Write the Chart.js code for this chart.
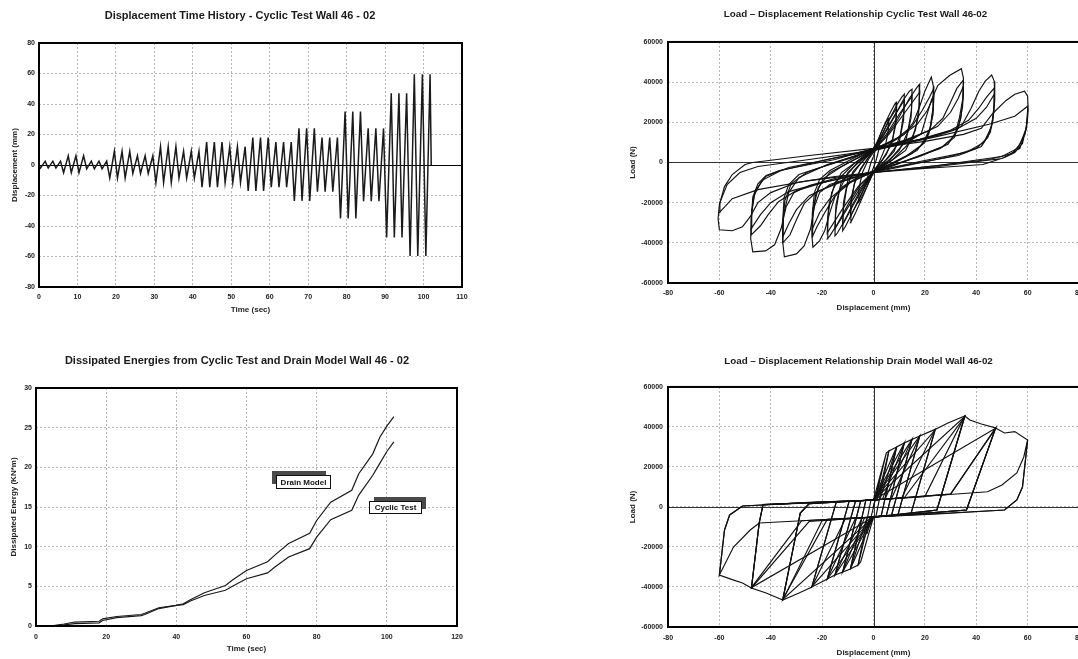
<!DOCTYPE html>
<html><head><meta charset="utf-8">
<script src="https://cdn.jsdelivr.net/npm/chart.js@4/dist/chart.umd.min.js"></script>
<style>
html,body{margin:0;padding:0;background:#fff;width:1078px;height:659px;overflow:hidden;position:relative}
canvas{position:absolute;display:block}
</style></head><body>
<canvas id="c1" width="480" height="330" style="left:0;top:0"></canvas>
<canvas id="c2" width="511" height="330" style="left:600px;top:0"></canvas>
<canvas id="c3" width="474" height="329" style="left:0;top:330px"></canvas>
<canvas id="c4" width="522" height="329" style="left:600px;top:330px"></canvas>
<script>
// ================= DATA =================
// Panel 1: displacement time history, turning points (sec, mm)
const histTime = [0,
 0.4,1.6,2.4,3.6,4.4,5.6, 6.4,7.6,8.4,9.6,10.4,11.6, 12.4,13.6,14.4,15.6,16.4,17.6,
 18.4,19.6,20.4,21.6,22.4,23.6, 24.4,25.6,26.4,27.6,28.4,29.6,
 30.4,31.6,32.4,33.6,34.4,35.6, 36.4,37.6,38.4,39.6,40.4,41.6,
 42.4,43.6,44.4,45.6,46.4,47.6, 48.4,49.6,50.4,51.6,52.4,53.6,
 54.4,55.6,56.4,57.6,58.4,59.6, 60.4,61.6,62.4,63.6,64.4,65.6,
 66.4,67.6,68.4,69.6,70.4,71.6, 72.4,73.6,74.4,75.6,76.4,77.6,
 78.4,79.6,80.4,81.6,82.4,83.6, 84.4,85.6,86.4,87.6,88.4,89.6,
 90.4,91.6,92.4,93.6,94.4,95.6, 96.5,97.6,98.5,99.7,100.6,101.7, 102.0];
const histDisp = [0,
 -2,2.5,-2,2.5,-2,2.5, -5,6,-5,6,-5,6, -2.5,2.5,-2.5,2.5,-2.5,2.5,
 -8.5,9,-8.5,9,-8.5,9, -5.5,6,-5.5,6,-5.5,6,
 -11.5,12,-11.5,12,-11.5,12, -8.5,9,-8.5,9,-8.5,9,
 -14.5,15,-14.5,15,-14.5,15, -11.5,12,-11.5,12,-11.5,12,
 -17,18,-17,18,-17,18, -14.5,15,-14.5,15,-14.5,15,
 -23.5,24,-23.5,24,-23.5,24, -17.5,18,-17.5,18,-17.5,18,
 -35,35,-35,35,-35,35, -23.8,24,-23.8,24,-23.8,24,
 -47.5,47,-47.5,47,-47.5,47, -59.7,59.5,-59.7,59.5,-59.7,59.5, 0];

// Panel 3: dissipated energy (sec, kN*m)
const energySeriesNames = ['Drain Model', 'Cyclic Test'];
const energyTime = [0,5,8,11,18,19,23,30,31,35,40,42,44,48,54,56,60,66,68,72,78,80,84,90,92,96,98,100,102];
const energyDrain = [0,0.05,0.25,0.5,0.6,0.9,1.2,1.45,1.6,2.3,2.6,2.8,3.3,4.2,5.1,5.8,7.0,8.1,8.9,10.4,11.7,13.3,15.6,17.1,19.2,21.7,23.8,25.2,26.4];
const energyTest  = [0,0.03,0.15,0.3,0.4,0.7,1.05,1.3,1.45,2.2,2.6,2.7,3.15,3.85,4.5,5.0,5.95,6.7,7.4,8.7,9.75,11.2,13.4,14.6,16.5,19.0,20.5,22.0,23.2];

// Panel 2: cyclic test hysteresis loops [displacement mm, load N]
const testLoop2 = [[0,3000],[1.2,8000],[2.5,12000],[2.2,7000],[1,1000],[0,-2500],[-1.2,-6500],[-2.5,-10000],[-2.2,-5500],[-1,0],[0,3000]];
const testLoop6 = [[0,5000],[1.5,10000],[3.5,16500],[5.3,21000],[6,22000],[5.7,15000],[4.3,6500],[2,-500],[0,-4500],[-1.5,-9000],[-3.5,-14500],[-5.3,-19000],[-6,-20000],[-5.7,-13000],[-4.3,-5000],[-2,1500],[0,5000]];
const testLoop9 = [[0,6500],[2,12000],[4.5,19500],[6.8,25500],[8.5,29500],[9,30000],[8.8,22000],[7.5,12000],[5,4000],[2,-1500],[0,-5000],[-2,-10500],[-4.5,-18000],[-6.8,-24500],[-8.5,-29000],[-9,-30000],[-8.8,-21000],[-7.5,-11000],[-5,-3000],[-2,2500],[0,6500]];
const testLoop9b = [[0,6000],[3,13000],[6,21000],[9,27000],[8.7,19000],[7,9000],[3.5,1500],[0,-4500],[-3,-11500],[-6,-19500],[-9,-27000],[-8.7,-18000],[-7,-8000],[-3.5,-500],[0,6000]];
const testLoop12 = [[0,7000],[3,13000],[6,21000],[9,28500],[11,32500],[12,34000],[11.8,25000],[10.5,14000],[8,5500],[4,0],[0,-5000],[-3,-11000],[-6,-19000],[-9,-27000],[-11,-32000],[-12,-34000],[-11.8,-24000],[-10.5,-13000],[-8,-4500],[-4,1000],[0,7000]];
const testLoop12b = [[0,6000],[4,14000],[8,23000],[12,31000],[11.7,21000],[10,10000],[5,1500],[0,-4500],[-4,-12500],[-8,-21500],[-12,-31000],[-11.7,-20000],[-10,-9000],[-5,-500],[0,6000]];
const testLoop15 = [[0,7000],[4,13500],[8,22500],[11.5,31000],[14,35500],[15,36500],[14.8,26000],[13.3,15000],[10,6000],[5,0],[0,-5000],[-4,-11500],[-8,-20500],[-11.5,-29500],[-14,-35000],[-15,-36500],[-14.8,-25500],[-13.3,-14000],[-10,-5000],[-5,1000],[0,7000]];
const testLoop15b = [[0,6000],[5,14000],[10,24000],[15,33000],[14.6,22000],[12.5,10500],[6.5,1500],[0,-4500],[-5,-12500],[-10,-22500],[-15,-33000],[-14.6,-21000],[-12.5,-9500],[-6.5,-500],[0,6000]];
const testLoop18 = [[0,7000],[5,13000],[9.5,21500],[14,32000],[17,37500],[18,39000],[17.8,28000],[16.3,16000],[12.5,6000],[6,0],[0,-5000],[-5,-11000],[-9.5,-20000],[-14,-30500],[-17,-36500],[-18,-38000],[-17.8,-27000],[-16.3,-15000],[-12.5,-5000],[-6,1000],[0,7000]];
const testLoop18b = [[0,6000],[6,14000],[12,24500],[18,35000],[17.5,23000],[15,11000],[7.5,1500],[0,-4500],[-6,-12000],[-12,-23000],[-18,-35000],[-17.5,-22000],[-15,-10000],[-7.5,-500],[0,6000]];
const testLoop24 = [[0,7000],[7,10000],[12,14000],[15.5,20000],[18,28000],[20,35500],[22.5,42500],[23.3,38000],[23.3,28000],[22.3,18000],[20,10000],[15,4500],[7,-1000],[0,-5000],[-7,-8000],[-12,-12000],[-15,-17000],[-17,-25000],[-19,-34000],[-21,-39000],[-23.6,-42200],[-24,-36000],[-23.8,-25000],[-23,-15000],[-21,-8500],[-17,-4000],[-8,2000],[0,7000]];
const testLoop24b = [[0,6500],[9,12000],[15,18000],[19,26000],[22,33000],[23.5,37000],[23.3,28000],[22,17000],[19,9000],[13,3500],[6,-1000],[0,-4500],[-9,-10000],[-15,-16500],[-19,-25000],[-22,-32000],[-23.8,-37000],[-23.7,-27000],[-22.5,-16000],[-19.5,-8000],[-13,-2500],[-6,2500],[0,6500]];
const testLoop24c = [[0,6000],[10,12500],[17,19000],[21,26000],[23.5,33000],[23.2,24000],[21.5,14000],[17,6000],[8,0],[0,-4500],[-10,-10500],[-17,-18000],[-21,-25000],[-23.8,-33000],[-23.5,-23000],[-21.5,-12500],[-17,-5000],[-8,1000],[0,6000]];
const testLoop35 = [[0,7000],[8,9000],[15,11500],[18.6,14300],[20.5,22600],[22.5,30900],[25,38300],[29.6,43300],[34.2,46700],[35,42000],[34.8,32000],[33.5,22600],[31.6,13400],[27,8000],[18,3500],[8,-1500],[0,-5000],[-10,-8000],[-17,-11000],[-21,-15000],[-23,-22000],[-24.5,-33000],[-27,-41500],[-30,-45500],[-34.7,-47000],[-35.3,-40000],[-35.3,-28000],[-34.8,-17500],[-33,-11000],[-29,-6000],[-22,-3000],[-8,2500],[0,7000]];
const testLoop35b = [[0,6500],[12,11000],[22,16000],[27,22000],[30,30000],[32.5,37000],[35,41000],[35,34000],[34,22000],[31.5,12500],[26,7000],[15,2000],[0,-4500],[-12,-9500],[-22,-14500],[-27,-20500],[-30,-28500],[-32.5,-36000],[-35.3,-40000],[-35.3,-30000],[-34.5,-19000],[-32,-10500],[-26,-5000],[-15,0],[0,6500]];
const testLoop35c = [[0,6000],[15,12000],[25,18000],[30,25000],[33,32000],[35,38000],[34.7,28000],[33,17000],[29,9000],[18,3000],[0,-4500],[-15,-10500],[-25,-16500],[-30,-23500],[-33,-30500],[-35.3,-37000],[-35,-26000],[-33,-15000],[-29,-7500],[-18,-1000],[0,6000]];
const testLoop47 = [[0,7000],[15,10500],[25,13500],[31,16000],[34.2,18000],[38,27000],[41,35500],[43.5,40500],[46,43500],[47,40500],[47.2,31000],[46.5,21000],[44.5,12500],[40,7000],[30,3000],[15,-1000],[0,-5000],[-15,-8000],[-25,-11500],[-31,-15000],[-34,-22000],[-36,-33000],[-38.5,-41000],[-42,-44000],[-47,-44500],[-47.8,-38000],[-47.6,-29000],[-47,-17300],[-45,-10600],[-41.8,-6500],[-36.6,-4000],[-15,1500],[0,7000]];
const testLoop47b = [[0,6500],[18,11500],[30,16000],[37,21000],[41,27000],[44,32500],[47,37000],[47,29000],[46,18000],[43,10000],[36,5000],[18,500],[0,-4500],[-18,-9500],[-30,-14000],[-37,-19500],[-41,-26000],[-44,-31500],[-47.6,-36000],[-47.6,-27000],[-46.5,-16500],[-43.5,-9000],[-36,-4000],[-18,1500],[0,6500]];
const testLoop47c = [[0,6000],[20,12000],[33,17000],[40,22000],[44,27500],[47,34000],[46.8,25000],[45.5,15000],[42,8000],[33,3500],[16,-500],[0,-4500],[-20,-10000],[-33,-14500],[-40,-20000],[-44,-26000],[-47.6,-33000],[-47.4,-24000],[-46,-14000],[-42,-7000],[-33,-2500],[-16,2000],[0,6000]];
const testLoop60 = [[0,7000],[20,10500],[35,14000],[42,17000],[46.4,24400],[51.6,30900],[55,34000],[58.8,35500],[60,33000],[60.2,26000],[59.5,17000],[57,9000],[54,4500],[45,1500],[25,-1500],[0,-5000],[-15,-7000],[-30,-10000],[-40,-15000],[-45,-20000],[-48,-27000],[-51,-32000],[-55,-34000],[-60,-33500],[-60.5,-28000],[-60,-21000],[-58,-12000],[-55,-6000],[-50,-1000],[-47,0],[-25,3500],[0,7000]];
const testLoop60b = [[0,6000],[25,13000],[45,19000],[55,23000],[60,28000],[60,22000],[59,14000],[56,7000],[50,3000],[25,-1500],[0,-5000],[-25,-9000],[-45,-13500],[-55,-18000],[-60,-25000],[-59.8,-20000],[-57,-11000],[-52,-5000],[-45,-2000],[-25,1500],[0,6000]];
const testLoop60c = [[0,-5000],[20,-3000],[42.6,-1000],[51,2500],[55,5000],[58,9500],[59.5,18000],[60,26000],[59.5,17000],[57,7000],[50,2000],[25,-2000],[0,-5000]];

// Panel 4: Drain model hysteresis loops [displacement mm, load N]
const drainLoop2 = [[-2.5,-13500],[2.5,13500],[-2.5,-13500]];
const drainLoop6 = [[0,0],[5,27000],[6,28000],[1,-4500],[0,-5000],[-5,-27500],[-6,-29000],[-1,3500],[0,3500],[5,27000]];
const drainLoop9 = [[0,3500],[1.5,3700],[6,28000],[9,30000],[3,-4400],[0,-5000],[-1.5,-5200],[-6,-29000],[-9,-31000],[-3,3300],[0,3500]];
const drainLoop9b = [[0,3500],[9,30000],[3,-4400],[0,-5000],[-9,-31000],[-3,3300],[0,3500]];
const drainLoop12 = [[0,3500],[2.5,3800],[9,30000],[12,32000],[5,-4300],[0,-5000],[-2.5,-5300],[-9,-31000],[-12,-32500],[-5,3100],[0,3500]];
const drainLoop12b = [[0,3500],[12,32000],[5,-4300],[0,-5000],[-12,-32500],[-5,3100],[0,3500]];
const drainLoop15 = [[0,3500],[3.5,3900],[12,32000],[15,33800],[7,-4200],[0,-5000],[-3.5,-5400],[-12,-32500],[-15,-34000],[-7,3000],[0,3500]];
const drainLoop15b = [[0,3500],[15,33800],[7,-4200],[0,-5000],[-15,-34000],[-7,3000],[0,3500]];
const drainLoop18 = [[0,3500],[4.5,4000],[15,33800],[18,35500],[9.5,-4000],[0,-5000],[-4.5,-5500],[-15,-34000],[-18,-36000],[-9.5,2800],[0,3500]];
const drainLoop18b = [[0,3500],[18,35500],[9.5,-4000],[0,-5000],[-18,-36000],[-9.5,2800],[0,3500]];
const drainLoop24 = [[0,3500],[7,4200],[18,35500],[24,38800],[14.5,-3700],[0,-5000],[-7,-5700],[-18,-36000],[-24,-40000],[-14.5,2500],[0,3500]];
const drainLoop24b = [[0,3500],[24,38500],[14.5,-3700],[0,-5000],[-24,-39800],[-14.5,2500],[0,3500]];
const drainLoop35 = [[0,3500],[11,4500],[24,38800],[29,42000],[35.5,45500],[24.7,-1500],[20,-2500],[0,-5000],[-11,-6000],[-24,-40000],[-29,-43000],[-35.3,-46500],[-28.5,-3000],[-25,1700],[0,3500]];
const drainLoop35b = [[0,3500],[35.5,45200],[24.7,-1500],[0,-5000],[-35.3,-46200],[-28.5,-3000],[-25,1700],[0,3500]];
const drainLoop35c = [[0,3500],[12,4600],[35.5,45000],[24.7,-1500],[0,-5000],[-18,-6200],[-35.3,-46000],[-28.5,-3000],[-25,1700],[0,3500]];
const drainLoop47 = [[0,3500],[20,5200],[35.5,45500],[37.5,43500],[42,41500],[47.5,39500],[36.2,-1500],[20,-3200],[0,-5000],[-20,-6800],[-35.3,-46500],[-41.8,-43000],[-47.5,-40500],[-44.5,-8000],[-43,1200],[-20,2400],[0,3500]];
const drainLoop47b = [[0,3500],[47.5,39300],[36.2,-1500],[0,-5000],[-47.5,-40300],[-44.5,-8000],[-43,1200],[0,3500]];
const drainLoop47c = [[0,3500],[30,6400],[47.5,39200],[36.2,-1500],[20,-3200],[0,-5000],[-28,-6900],[-47.5,-40200],[-44.5,-8000],[-43,1200],[0,3500]];
const drainLoop60 = [[0,3500],[30,6400],[47.5,39500],[51,37000],[55,37700],[60,33500],[58,10000],[55.8,3500],[51,-1500],[25,-3500],[0,-5000],[-25,-7200],[-47.5,-40500],[-51,-38000],[-55,-36300],[-60,-34000],[-58,-11500],[-56,-4000],[-51,500],[-25,2300],[0,3500]];
const drainLoop60b = [[0,3500],[44.4,7600],[50,11000],[55.8,17000],[58.5,25000],[60,33500],[58,10000],[55.8,3500],[51,-1500],[0,-5000],[-44.5,-8000],[-48,-11500],[-54.5,-20000],[-60,-34000],[-58,-11500],[-56,-4000],[-51,500],[0,3500]];

const testLoops = [testLoop2,testLoop6,testLoop9,testLoop9b,testLoop12,testLoop12b,testLoop15,testLoop15b,testLoop18,testLoop18b,testLoop24,testLoop24b,testLoop24c,testLoop35,testLoop35b,testLoop35c,testLoop47,testLoop47b,testLoop47c,testLoop60,testLoop60b,testLoop60c];
const drainLoops = [drainLoop2,drainLoop6,drainLoop9,drainLoop9b,drainLoop12,drainLoop12b,drainLoop15,drainLoop15b,drainLoop18,drainLoop18b,drainLoop24,drainLoop24b,drainLoop35,drainLoop35b,drainLoop35c,drainLoop47,drainLoop47b,drainLoop47c,drainLoop60,drainLoop60b];

// ================= STYLE / CHARTS =================
const FONT = '"Liberation Sans", Arial, Helvetica, sans-serif';
Chart.defaults.font.family = FONT;
Chart.defaults.color = '#222';
Chart.defaults.animation = false;

const framePlugin = {
  id: 'frame',
  beforeDatasetsDraw(chart, args, o) {
    const {ctx, chartArea: a, scales: {x, y}} = chart;
    ctx.save();
    ctx.strokeStyle = o.zeroColor || '#000';
    ctx.lineWidth = 1;
    if (o.zeroY) {
      const py = Math.round(y.getPixelForValue(0)) + 0.5;
      ctx.beginPath(); ctx.moveTo(a.left, py); ctx.lineTo(a.right, py); ctx.stroke();
    }
    if (o.zeroX) {
      const px = Math.round(x.getPixelForValue(0)) + 0.5;
      ctx.beginPath(); ctx.moveTo(px, a.top); ctx.lineTo(px, a.bottom); ctx.stroke();
    }
    ctx.restore();
  },
  afterDraw(chart) {
    const {ctx, chartArea: a} = chart;
    ctx.save();
    ctx.strokeStyle = '#000';
    ctx.lineWidth = 2;
    ctx.strokeRect(a.left, a.top, a.right - a.left, a.bottom - a.top);
    ctx.restore();
  }
};

const calloutPlugin = {
  id: 'callouts',
  afterDatasetsDraw(chart, args, o) {
    const {ctx, scales: {x, y}} = chart;
    ctx.save();
    ctx.font = 'bold 8px ' + FONT;
    (o.items || []).forEach(it => {
      const cx = x.getPixelForValue(it.at[0]);
      const cy = y.getPixelForValue(it.at[1]);
      const l = Math.round(cx - it.w / 2), t = Math.round(cy - it.h / 2);
      ctx.fillStyle = '#4a4a4a';
      ctx.fillRect(l + it.shadow[0], t + it.shadow[1], it.w, it.h);
      ctx.fillStyle = '#fff';
      ctx.fillRect(l, t, it.w, it.h);
      ctx.strokeStyle = '#111'; ctx.lineWidth = 1;
      ctx.strokeRect(l + 0.5, t + 0.5, it.w, it.h);
      ctx.fillStyle = '#111'; ctx.textAlign = 'center'; ctx.textBaseline = 'middle';
      ctx.fillText(it.text, l + it.w / 2 + 0.5, t + it.h / 2 + 1);
    });
    ctx.restore();
  }
};

function axis(min, max, step, title, o) {
  return {
    type: 'linear', min, max,
    ticks: { stepSize: step, padding: o.tickPad, font: { size: 7, weight: 'bold' }, color: '#222',
             maxRotation: 0, autoSkip: false, callback: v => String(v) },
    grid: { color: '#b4b4b4', lineWidth: 1, drawTicks: false },
    border: { display: false, dash: [2, 2] },
    title: { display: true, text: title, font: { size: 8, weight: 'bold' }, color: '#222', padding: o.titlePad },
    afterFit: o.fit
  };
}

function makeChart(id, datasets, cfg) {
  return new Chart(document.getElementById(id), {
    type: 'scatter',
    data: { datasets },
    options: {
      responsive: false, maintainAspectRatio: false, animation: false,
      layout: { padding: { left: cfg.padLeft, right: cfg.padRight, top: 0, bottom: 0 } },
      plugins: {
        legend: { display: false }, tooltip: { enabled: false },
        title: { display: true, text: cfg.title, font: { size: cfg.titleSize, weight: 'bold' }, color: '#1a1a1a',
                 padding: { top: cfg.titleTop, bottom: cfg.titleBottom } },
        frame: cfg.frame,
        callouts: cfg.callouts || {}
      },
      scales: { x: cfg.x, y: cfg.y },
      events: []
    },
    plugins: [framePlugin, calloutPlugin]
  });
}

function lineDs(data, label, width, color) {
  return { label, data, showLine: true, borderColor: color, borderWidth: width, pointRadius: 0, tension: 0, fill: false };
}

// Panel 1
makeChart('c1', [lineDs(histTime.map((t, i) => ({ x: t, y: histDisp[i] })), 'Displacement', 1.5, '#1a1a1a')], {
  title: 'Displacement Time History - Cyclic Test Wall 46 - 02', titleSize: 11, titleTop: 9.4, titleBottom: 20.4,
  padLeft: 18, padRight: 18,
  frame: { zeroY: true, zeroColor: '#000' },
  x: axis(0, 110, 10, 'Time (sec)', { tickPad: 6, titlePad: { top: 0, bottom: 15 }, fit: s => { s.height = 43; } }),
  y: axis(-80, 80, 20, 'Displacement (mm)', { tickPad: 4, titlePad: { top: -7.8, bottom: 0 }, fit: s => { s.width = 21; } })
});

// Panel 2
makeChart('c2', testLoops.map((d, i) => lineDs(d, 'test' + i, 1.15, '#111')), {
  title: 'Load \u2013 Displacement Relationship Cyclic Test Wall 46-02', titleSize: 9.8, titleTop: 8.1, titleBottom: 22.1,
  padLeft: 32, padRight: 32,
  frame: { zeroY: true, zeroX: true, zeroColor: '#333' },
  x: axis(-80, 80, 20, 'Displacement (mm)', { tickPad: 6, titlePad: { top: 0, bottom: 17 }, fit: s => { s.height = 47; } }),
  y: axis(-60000, 60000, 20000, 'Load (N)', { tickPad: 5, titlePad: { top: -3.8, bottom: 0 }, fit: s => { s.width = 36; } })
});

// Panel 3
makeChart('c3', [
  lineDs(energyTime.map((t, i) => ({ x: t, y: energyDrain[i] })), energySeriesNames[0], 1.2, '#1a1a1a'),
  lineDs(energyTime.map((t, i) => ({ x: t, y: energyTest[i] })), energySeriesNames[1], 1.2, '#1a1a1a')
], {
  title: 'Dissipated Energies from Cyclic Test and Drain Model Wall 46 - 02', titleSize: 11, titleTop: 24.4, titleBottom: 20.4,
  padLeft: 17, padRight: 17,
  frame: { zeroY: false },
  callouts: { items: [
    { text: energySeriesNames[0], at: [76.1, 18.2], w: 54, h: 13, shadow: [-4, -4] },
    { text: energySeriesNames[1], at: [102.3, 15.0], w: 52, h: 12, shadow: [5, -4] }
  ] },
  x: axis(0, 120, 20, 'Time (sec)', { tickPad: 7, titlePad: { top: 0, bottom: 5 }, fit: s => { s.height = 33; } }),
  y: axis(0, 30, 5, 'Dissipated Energy (KN*m)', { tickPad: 4, titlePad: { top: -7.8, bottom: 0 }, fit: s => { s.width = 19; } })
});

// Panel 4
makeChart('c4', drainLoops.map((d, i) => lineDs(d, 'drain' + i, 1.15, '#111')), {
  title: 'Load \u2013 Displacement Relationship Drain Model Wall 46-02', titleSize: 9.8, titleTop: 25.1, titleBottom: 20.1,
  padLeft: 38, padRight: 43,
  frame: { zeroY: true, zeroX: true, zeroColor: '#333' },
  x: axis(-80, 80, 20, 'Displacement (mm)', { tickPad: 7, titlePad: { top: 0, bottom: 1 }, fit: s => { s.height = 32; } }),
  y: axis(-60000, 60000, 20000, 'Load (N)', { tickPad: 5, titlePad: { top: -9.8, bottom: 0 }, fit: s => { s.width = 30; } })
});
</script>
</body></html>
